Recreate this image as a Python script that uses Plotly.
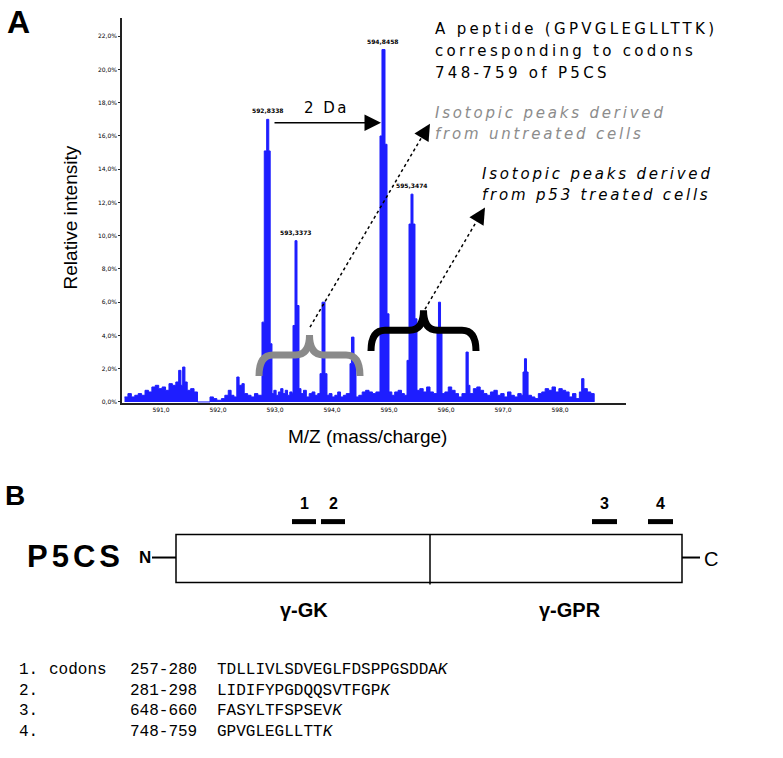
import plotly.graph_objects as go

# Spectrum profile (m/z, relative intensity %)
MZ = [590.36, 590.42, 590.48, 590.54, 590.60, 590.66, 590.72, 590.78, 590.84, 590.90,
      590.96, 591.02, 591.08, 591.14, 591.20, 591.26, 591.31, 591.35, 591.38, 591.42,
      591.46, 591.52, 591.58, 591.64, 591.86, 591.92, 591.98, 592.06, 592.12, 592.18,
      592.23, 592.28, 592.33, 592.37, 592.42, 592.46, 592.52, 592.58, 592.64, 592.70,
      592.772, 592.812, 592.854, 592.891, 592.916, 592.947, 592.98, 593.02, 593.06, 593.10,
      593.14, 593.18, 593.22, 593.26, 593.30, 593.316, 593.351, 593.386, 593.421, 593.456,
      593.50, 593.55, 593.60, 593.65, 593.70, 593.75, 593.790, 593.825, 593.877, 593.912,
      593.95, 594.00, 594.05, 594.10, 594.15, 594.20, 594.25, 594.316, 594.342, 594.386,
      594.421, 594.47, 594.53, 594.59, 594.65, 594.71, 594.77, 594.842, 594.877, 594.930,
      594.965, 595.000, 595.05, 595.10, 595.16, 595.22, 595.27, 595.316, 595.351, 595.386,
      595.421, 595.456, 595.491, 595.54, 595.60, 595.66, 595.72, 595.78, 595.842, 595.868,
      595.904, 595.930, 595.98, 596.04, 596.10, 596.16, 596.22, 596.28, 596.351, 596.39,
      596.42, 596.48, 596.54, 596.60, 596.66, 596.72, 596.78, 596.84, 596.90, 596.96,
      597.02, 597.08, 597.14, 597.20, 597.26, 597.32, 597.351, 597.377, 597.412, 597.44,
      597.50, 597.56, 597.62, 597.68, 597.74, 597.80, 597.86, 597.92, 597.98, 598.04,
      598.10, 598.16, 598.22, 598.28, 598.34, 598.38, 598.42, 598.48, 598.54, 598.60]
INTENSITY = [0.3, 0.5, 0.3, 0.4, 0.5, 0.4, 0.7, 0.6, 0.9, 1.0,
             0.8, 0.9, 0.7, 1.1, 1.0, 1.2, 1.9, 1.0, 2.1, 1.2,
             0.7, 0.8, 0.6, 0.0, 0.3, 0.2, 0.1, 0.2, 0.4, 0.7,
             0.4, 0.3, 1.5, 1.0, 1.1, 0.5, 0.4, 0.3, 0.5, 0.4,
             4.8, 15.1, 17.0, 15.1, 3.5, 0.5, 0.7, 0.4, 0.6, 0.8,
             0.5, 0.7, 0.4, 0.6, 0.5, 4.6, 9.7, 5.8, 0.8, 0.5,
             0.7, 0.3, 0.5, 0.6, 0.4, 0.5, 1.7, 6.0, 1.7, 0.4,
             0.5, 0.3, 0.4, 0.6, 0.3, 0.4, 0.5, 2.3, 3.9, 2.3,
             0.3, 0.4, 0.6, 0.7, 0.6, 0.5, 0.6, 16.0, 21.2, 15.5,
             5.3, 0.6, 0.4, 0.6, 0.7, 0.5, 0.4, 2.5, 10.7, 12.5,
             10.7, 5.0, 0.7, 0.8, 0.6, 0.9, 0.6, 0.5, 4.2, 6.0,
             4.2, 0.5, 0.6, 0.9, 0.7, 0.5, 0.3, 0.5, 3.0, 1.0,
             0.5, 0.8, 0.9, 0.7, 0.5, 0.4, 0.6, 0.7, 0.4, 0.5,
             0.3, 0.6, 0.4, 0.3, 0.5, 0.4, 1.8, 2.6, 1.8, 0.4,
             0.3, 0.2, 0.5, 0.6, 0.8, 0.7, 0.9, 0.6, 0.8, 0.7,
             0.6, 0.3, 0.5, 0.2, 0.6, 1.4, 0.8, 0.6, 0.5, 0.0]

PEAK_MZ = [592.88, 593.37, 594.90, 595.40]
PEAK_INT = [17.0, 9.7, 21.2, 12.5]
PEAK_LABELS = ["592,8338", "593,3373", "594,8458", "595,3474"]

X_TICKS = [591, 592, 593, 594, 595, 596, 597, 598]
Y_TICKS = [0, 2, 4, 6, 8, 10, 12, 14, 16, 18, 20, 22]

# Panel B: peptides
PEP_NUM = ["1.", "2.", "3.", "4."]
PEP_CODONS = ["257-280", "281-298", "648-660", "748-759"]
PEP_SEQ = ["TDLLIVLSDVEGLFDSPPGSDDA", "LIDIFYPGDQQSVTFGP", "FASYLTFSPSEV", "GPVGLEGLLTT"]

W, H = 783, 758


def px(x):
    return x / W


def py(y):
    return 1 - y / H


fig = go.Figure()
fig.add_trace(go.Scatter(
    x=MZ, y=INTENSITY, mode="lines", line=dict(color="#1e1eff", width=1, shape="hv"),
    fill="tozeroy", fillcolor="#1e1eff", hoverinfo="skip"))

ann = []


def text(x, y, t, size, color="black", family="DejaVu Sans", xanchor="left",
         yanchor="middle", bold=False, italic=False, spacing=0, angle=0):
    if spacing:
        t = f'<span style="letter-spacing:{spacing}px">{t}</span>'
    ann.append(dict(x=px(x), y=py(y), xref="paper", yref="paper", text=t, showarrow=False,
                    xanchor=xanchor, yanchor=yanchor, textangle=angle,
                    font=dict(size=size, color=color, family=family,
                              weight="bold" if bold else "normal",
                              style="italic" if italic else "normal")))


# peak labels from data
for m, v, lab in zip(PEAK_MZ, PEAK_INT, PEAK_LABELS):
    ann.append(dict(x=m, y=v, xref="x", yref="y", text=lab, showarrow=False,
                    yanchor="bottom", yshift=3,
                    font=dict(size=6, color="black", family="DejaVu Sans", weight="bold")))

text(5, 22, "A", 32, family="Liberation Sans", bold=True)
text(3, 497, "B", 28, family="Liberation Sans", bold=True)
text(70, 218, "Relative intensity", 19, family="Liberation Sans", xanchor="center", angle=-90)
text(367, 438, "M/Z (mass/charge)", 19, family="Liberation Sans", xanchor="center")

text(433, 29, "A peptide (GPVGLEGLLTTK)", 15, spacing=3.3)
text(433, 51, "corresponding to codons", 15, spacing=3.3)
text(433, 73, "748-759 of P5CS", 15, spacing=3.3)
text(433, 113, "Isotopic peaks derived", 15, color="#8c8c8c", italic=True, spacing=2.8)
text(433, 134, "from untreated cells", 15, color="#8c8c8c", italic=True, spacing=2.8)
text(480, 174, "Isotopic peaks derived", 15, italic=True, spacing=2.8)
text(480, 196, "from p53 treated cells", 15, italic=True, spacing=2.8)
text(326, 108, "2 Da", 15, xanchor="center", spacing=2.5)

# arrows
ann.append(dict(x=px(381), y=py(123), xref="paper", yref="paper", ax=-108, ay=0,
                showarrow=True, arrowhead=2, arrowsize=2.2, arrowwidth=1.5, arrowcolor="black", text=""))
shapes = []
for (x0, y0, x1, y1) in [(310, 328, 430, 124), (425, 310, 485, 208)]:
    shapes.append(dict(type="line", xref="paper", yref="paper", x0=px(x0), y0=py(y0),
                       x1=px(x1 - 5), y1=py(y1 + 8), line=dict(color="black", width=1.5, dash="dot")))
    ann.append(dict(x=px(x1), y=py(y1), xref="paper", yref="paper", ax=-6, ay=10,
                    showarrow=True, arrowhead=2, arrowsize=2.2, arrowwidth=1.5, arrowcolor="black", text=""))


def brace(x0, x1, yb, ya, yt, color):
    xm = (x0 + x1) / 2
    r = 14
    d = (f"M {px(x0)},{py(yb)} Q {px(x0)},{py(ya)} {px(x0 + r)},{py(ya)} "
         f"L {px(xm - r)},{py(ya)} Q {px(xm)},{py(ya)} {px(xm)},{py(yt)} "
         f"Q {px(xm)},{py(ya)} {px(xm + r)},{py(ya)} L {px(x1 - r)},{py(ya)} "
         f"Q {px(x1)},{py(ya)} {px(x1)},{py(yb)}")
    shapes.append(dict(type="path", xref="paper", yref="paper", path=d,
                       line=dict(color=color, width=7)))


brace(259, 360, 377, 356, 336, "#8a8a8a")
brace(371, 476, 352, 331, 311, "black")

# Panel B schematic
shapes.append(dict(type="rect", xref="paper", yref="paper", x0=px(176), x1=px(682),
                   y0=py(584), y1=py(536), line=dict(color="black", width=1.5)))
shapes.append(dict(type="line", xref="paper", yref="paper", x0=px(430), x1=px(430),
                   y0=py(536), y1=py(586), line=dict(color="black", width=1.5)))
shapes.append(dict(type="line", xref="paper", yref="paper", x0=px(152), x1=px(176),
                   y0=py(559), y1=py(559), line=dict(color="black", width=2)))
shapes.append(dict(type="line", xref="paper", yref="paper", x0=px(682), x1=px(700),
                   y0=py(559), y1=py(559), line=dict(color="black", width=2)))
for lab, (bx0, bx1) in zip(["1", "2", "3", "4"], [(292, 316), (321, 345), (592, 617), (648, 673)]):
    shapes.append(dict(type="line", xref="paper", yref="paper", x0=px(bx0), x1=px(bx1),
                       y0=py(523), y1=py(523), line=dict(color="black", width=5)))
    text((bx0 + bx1) / 2, 505, lab, 16, family="Liberation Sans", xanchor="center", bold=True)

text(25, 558, "P5CS", 31, family="Liberation Sans", bold=True, spacing=4)
text(137, 559, "N", 17, family="Liberation Sans", bold=True)
text(702, 560, "C", 20, family="Liberation Sans")
text(304, 612, "γ-GK", 20, family="Liberation Sans", xanchor="center", bold=True)
text(570, 612, "γ-GPR", 20, family="Liberation Sans", xanchor="center", bold=True)

rows_y = [672, 693, 713, 734]
for i, (n, c, s) in enumerate(zip(PEP_NUM, PEP_CODONS, PEP_SEQ)):
    y = rows_y[i]
    text(17, y, n, 16, family="Liberation Mono")
    if i == 0:
        text(47, y, "codons", 16, family="Liberation Mono")
    text(128, y, c, 16, family="Liberation Mono")
    text(215, y, s + "<i>K</i>", 16, family="Liberation Mono")

fig.update_layout(
    width=W, height=H, margin=dict(l=0, r=0, t=0, b=0),
    paper_bgcolor="white", plot_bgcolor="white", showlegend=False,
    annotations=ann, shapes=shapes,
    xaxis=dict(domain=[px(122), px(626)], range=[590.316, 599.158], showgrid=False,
               zeroline=False, showline=True, linecolor="#222", linewidth=1.5,
               tickvals=X_TICKS, ticktext=[f"{v},0" for v in X_TICKS], ticks="",
               tickfont=dict(size=6, color="black", family="DejaVu Sans"), fixedrange=True),
    yaxis=dict(domain=[py(404), py(18)], range=[-0.06, 23.1], showgrid=False,
               zeroline=False, showline=True, linecolor="#222", linewidth=1.5,
               tickvals=Y_TICKS, ticktext=[f"{v},0%" for v in Y_TICKS], ticks="outside",
               ticklen=2, tickcolor="#222",
               tickfont=dict(size=6, color="black", family="DejaVu Sans"), fixedrange=True),
)

# page body has a default 8px margin; remove it so the figure fills the window
fig.write_html("out.html", config={"displayModeBar": False},
               post_script="document.body.style.margin='0';")
